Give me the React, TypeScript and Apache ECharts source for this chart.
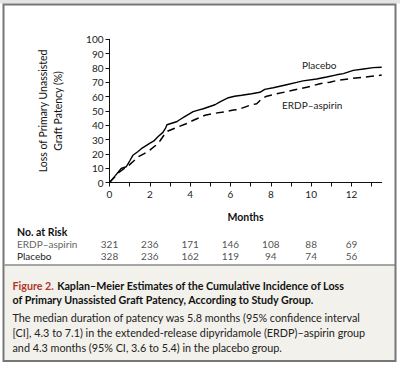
import React, { useEffect, useRef } from "react";
import * as echarts from "echarts";

// ---- data ----
const placeboT = [0, 0.3, 0.58, 0.83, 1.0, 1.16, 1.4, 1.58, 1.99, 2.2, 2.4, 2.65, 2.78, 2.85, 3.32, 3.5, 3.73, 4.15, 4.4, 4.65, 5.23, 5.5, 5.9, 6.2, 6.56, 7.05, 7.46, 7.7, 8.12, 8.78, 9.28, 9.6, 10.27, 10.77, 11.26, 11.6, 12.09, 12.6, 13.08, 13.5];
const placeboV = [0, 5, 9.8, 11, 15, 19, 21.5, 23.6, 27.3, 29, 32, 35, 38, 40.3, 42.4, 44, 46, 49.5, 50.5, 51.5, 54.3, 56.5, 59.2, 60.2, 60.9, 62, 63, 65, 66.2, 68.3, 69.9, 71, 72.3, 73.7, 75.2, 76, 78.3, 79.3, 80.2, 80.5];
const erdpT = [0, 0.5, 0.92, 1.2, 1.42, 1.7, 2.0, 2.3, 2.5, 2.75, 2.9, 3.41, 3.8, 4.16, 4.74, 5.2, 5.56, 6.14, 6.39, 6.97, 7.3, 7.55, 7.8, 8.29, 8.78, 9.2, 9.78, 10.44, 10.93, 11.26, 12.09, 12.5, 12.9, 13.5];
const erdpV = [0, 7.5, 11.5, 15, 17.9, 20, 22.6, 26, 29, 34, 36, 38.9, 41, 43.5, 47, 48.3, 49, 50.6, 51, 54, 55, 58.4, 60.3, 61.9, 63.4, 64.8, 66.5, 69, 70, 71.2, 72.8, 73.3, 74.1, 75];

const riskMonths = [0, 2, 4, 6, 8, 10, 12];
const riskERDP = [321, 236, 171, 146, 108, 88, 69];
const riskPlacebo = [328, 236, 162, 119, 94, 74, 56];
const riskRows = ["Placebo", "ERDP–aspirin"];

const captionTitle1 = "Kaplan–Meier Estimates of the Cumulative Incidence of Loss";
const captionTitle2 = "of Primary Unassisted Graft Patency, According to Study Group.";
const captionBody = [
  "The median duration of patency was 5.8 months (95% confidence interval",
  "[CI], 4.3 to 7.1) in the extended-release dipyridamole (ERDP)–aspirin group",
  "and 4.3 months (95% CI, 3.6 to 5.4) in the placebo group.",
];

const FONT = "Lato";

export default function App() {
  const ref = useRef<HTMLDivElement>(null);
  useEffect(() => {
    document.body.style.margin = "0";
    if (!ref.current) return;
    const chart = echarts.init(ref.current, undefined, { renderer: "svg" });
    const zip = (t: number[], v: number[]) => t.map((x, i) => [x, v[i]]);
    const riskData: any[] = [];
    riskMonths.forEach((m, i) => {
      riskData.push([m, "ERDP–aspirin", riskERDP[i]]);
      riskData.push([m, "Placebo", riskPlacebo[i]]);
    });
    const gridLeft = 109.5;
    const gridW = 272.2;
    chart.setOption({
      animation: false,
      textStyle: { fontFamily: FONT },
      grid: [
        { left: gridLeft, top: 39.3, width: gridW, height: 143.2 },
        { left: gridLeft, top: 238, width: gridW, height: 24 },
      ],
      xAxis: [
        {
          type: "value",
          gridIndex: 0,
          min: 0,
          max: 13.5,
          interval: 1,
          name: "Months",
          nameLocation: "middle",
          nameGap: 29,
          nameTextStyle: { fontFamily: FONT, fontSize: 10.5, fontWeight: "bold", color: "#111" },
          axisLine: { lineStyle: { color: "#111", width: 1 } },
          axisTick: { length: 4, lineStyle: { color: "#111" } },
          axisLabel: {
            margin: 6,
            fontSize: 10,
            color: "#222",
            fontFamily: FONT,
            showMaxLabel: false,
            formatter: (v: number) => (v % 2 === 0 ? String(v) : ""),
          },
          splitLine: { show: false },
        },
        {
          type: "value",
          gridIndex: 1,
          min: 0,
          max: 13.5,
          show: false,
        },
      ],
      yAxis: [
        {
          type: "value",
          gridIndex: 0,
          min: 0,
          max: 100,
          interval: 10,
          name: "Loss of Primary Unassisted\nGraft Patency (%)",
          nameLocation: "middle",
          nameGap: 44,
          nameRotate: 90,
          nameTextStyle: { fontFamily: FONT, fontSize: 10.5, color: "#111", lineHeight: 15 },
          axisLine: { show: true, lineStyle: { color: "#111", width: 1 } },
          axisTick: { show: true, length: 4, lineStyle: { color: "#111" } },
          axisLabel: { margin: 6, fontSize: 10, color: "#222", fontFamily: FONT },
          splitLine: { show: false },
        },
        {
          type: "category",
          gridIndex: 1,
          data: riskRows,
          show: false,
        },
      ],
      series: [
        {
          name: "Placebo",
          type: "line",
          xAxisIndex: 0,
          yAxisIndex: 0,
          data: zip(placeboT, placeboV),
          showSymbol: false,
          symbol: "none",
          lineStyle: { color: "#000", width: 1.4 },
        },
        {
          name: "ERDP–aspirin",
          type: "line",
          xAxisIndex: 0,
          yAxisIndex: 0,
          data: zip(erdpT, erdpV),
          showSymbol: false,
          symbol: "none",
          lineStyle: { color: "#000", width: 1.5, type: [8, 5] },
        },
        {
          type: "scatter",
          xAxisIndex: 1,
          yAxisIndex: 1,
          data: riskData,
          symbolSize: 1,
          itemStyle: { color: "transparent" },
          label: {
            show: true,
            position: "inside",
            formatter: (p: any) => String(p.value[2]),
            fontSize: 10,
            fontFamily: FONT,
            color: "#222",
          },
        },
      ],
      graphic: [
        { type: "rect", shape: { x: 0, y: 0, width: 400, height: 3.5 }, style: { fill: "#e4e4e4" }, z: 0 },
        { type: "rect", shape: { x: 4.5, y: 265, width: 390.5, height: 95.5 }, style: { fill: "#f3f1ec" }, z: 0 },
        { type: "line", shape: { x1: 4.5, y1: 265, x2: 395, y2: 265 }, style: { stroke: "#8a8a8a", lineWidth: 1.5 }, z: 1 },
        { type: "rect", shape: { x: 3.5, y: 4.5, width: 392, height: 356.5 }, style: { fill: "none", stroke: "#777", lineWidth: 2 }, z: 2 },
        { type: "text", x: 302, y: 65, style: { text: "Placebo", fontSize: 10, fontFamily: FONT, fill: "#222", verticalAlign: "middle" } },
        { type: "text", x: 282, y: 105, style: { text: "ERDP–aspirin", fontSize: 10, fontFamily: FONT, fill: "#222", verticalAlign: "middle" } },
        { type: "text", x: 17, y: 232, style: { text: "No. at Risk", fontSize: 10.5, fontWeight: "bold", fontFamily: FONT, fill: "#111", verticalAlign: "middle" } },
        { type: "text", x: 17, y: 244, style: { text: "ERDP–aspirin", fontSize: 10, fontFamily: FONT, fill: "#666", verticalAlign: "middle" } },
        { type: "text", x: 17, y: 256, style: { text: "Placebo", fontSize: 10, fontFamily: FONT, fill: "#222", verticalAlign: "middle" } },
        {
          type: "text",
          x: 12.5,
          y: 285,
          z: 3,
          style: {
            text: "{r|Figure 2.} {b|" + captionTitle1 + "}",
            verticalAlign: "middle",
            rich: {
              r: { fontSize: 10.7, fontWeight: "bold", fontFamily: FONT, fill: "#b0392b", color: "#b0392b" },
              b: { fontSize: 10.7, fontWeight: "bold", fontFamily: FONT, fill: "#111", color: "#111" },
            },
          },
        },
        { type: "text", x: 12.5, y: 299.5, z: 3, style: { text: captionTitle2, fontSize: 10.7, fontWeight: "bold", fontFamily: FONT, fill: "#111", verticalAlign: "middle" } },
        ...captionBody.map((t, i) => ({
          type: "text",
          x: 12.5,
          y: 317 + i * 15,
          z: 3,
          style: { text: t, fontSize: 10.8, fontFamily: FONT, fill: "#222", verticalAlign: "middle" },
        })),
      ],
    });
    return () => chart.dispose();
  }, []);
  return <div ref={ref} style={{ width: 400, height: 367 }} />;
}
